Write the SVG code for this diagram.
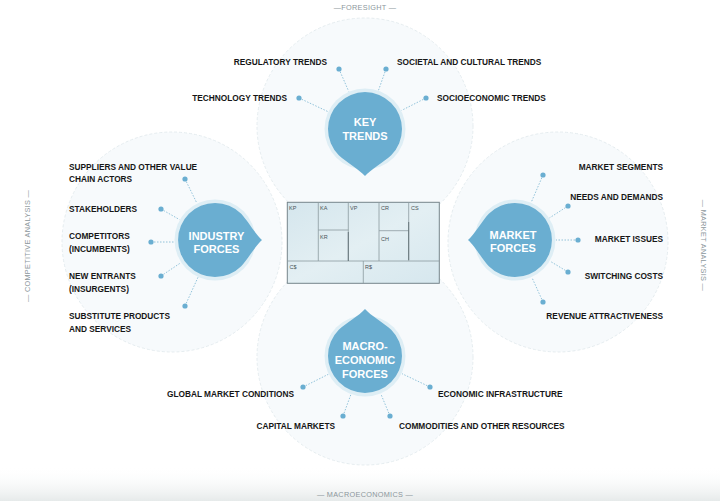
<svg xmlns="http://www.w3.org/2000/svg" xmlns:xlink="http://www.w3.org/1999/xlink" width="720" height="501" viewBox="0 0 720 501">
<defs>
<style>
.zone{fill:#cfe2ea;fill-opacity:0.16;stroke:#e2eaed;stroke-width:0.9;stroke-dasharray:3 2}
.halo{fill:#deeef5}
.drop{fill:#6aaed1}
.wt{font-family:"Liberation Sans",Arial,sans-serif;font-weight:bold;font-size:11px;fill:#ffffff;text-anchor:middle}
.lb{font-family:"Liberation Sans",Arial,sans-serif;font-weight:bold;font-size:8.3px;fill:#161616}
.end{text-anchor:end}
.side{font-family:"Liberation Sans",Arial,sans-serif;font-size:7.3px;fill:#8c979c;text-anchor:middle;letter-spacing:0.3px}
.dot{fill:#6aaed1}
.cn{stroke:#86bcd6;stroke-width:0.9;stroke-dasharray:1.5 1.5;fill:none}
.cell{font-family:"Liberation Sans",Arial,sans-serif;font-size:5.5px;fill:#4a5458}
.grid{stroke:#8b9aa0;stroke-width:0.8;fill:none}
</style>
<path id="dropShape" d="M 47 0 C 41 5 32.5 19.5 26.2 26.2 A 37 37 0 1 1 26.2 -26.2 C 32.5 -19.5 41 -5 47 0 Z"/>
<linearGradient id="floor" x1="0" y1="0" x2="0" y2="1">
<stop offset="0" stop-color="#ffffff" stop-opacity="0"/>
<stop offset="1" stop-color="#e6eaea"/>
</linearGradient>
<linearGradient id="bmc" x1="0" y1="0" x2="1" y2="1">
<stop offset="0" stop-color="#d5e6ed"/>
<stop offset="0.5" stop-color="#e3eff3"/>
<stop offset="1" stop-color="#d6e7ee"/>
</linearGradient>
</defs>
<rect x="0" y="0" width="720" height="501" fill="#ffffff"/>
<rect x="0" y="466" width="720" height="35" fill="url(#floor)"/>

<g id="zones">
<circle class="zone" cx="365" cy="126" r="108"/>
<circle class="zone" cx="172" cy="242" r="110"/>
<circle class="zone" cx="558" cy="242" r="110"/>
<circle class="zone" cx="365" cy="357" r="108"/>
</g>

<g id="side-labels">
<text class="side" x="365" y="10">—FORESIGHT —</text>
<text class="side" x="365" y="497">— MACROECONOMICS —</text>
<text class="side" transform="translate(29.5,246) rotate(-90)">— COMPETITIVE ANALYSIS —</text>
<text class="side" transform="translate(700.5,245.5) rotate(90)">— MARKET ANALYSIS —</text>
</g>

<g id="connectors">
<line class="cn" x1="339" y1="69" x2="348.7" y2="91.4"/>
<line class="cn" x1="386" y1="69" x2="378.5" y2="90.3"/>
<line class="cn" x1="299" y1="98" x2="327.9" y2="111.6"/>
<line class="cn" x1="426" y1="98" x2="401.6" y2="110.4"/>
<line class="cn" x1="185" y1="179" x2="196.9" y2="203.2"/>
<line class="cn" x1="161" y1="209" x2="179.5" y2="219.6"/>
<line class="cn" x1="151" y1="242" x2="174" y2="242"/>
<line class="cn" x1="161" y1="276" x2="180.9" y2="262.7"/>
<line class="cn" x1="185" y1="306" x2="198" y2="277.3"/>
<line class="cn" x1="543" y1="175" x2="531.2" y2="202.4"/>
<line class="cn" x1="568" y1="206" x2="549.5" y2="217.9"/>
<line class="cn" x1="578" y1="240" x2="556" y2="240"/>
<line class="cn" x1="568" y1="272" x2="550.1" y2="261.2"/>
<line class="cn" x1="543" y1="302" x2="531.9" y2="277.4"/>
<line class="cn" x1="303" y1="387" x2="328.3" y2="374.3"/>
<line class="cn" x1="343" y1="416" x2="350.9" y2="394.5"/>
<line class="cn" x1="430" y1="387" x2="402" y2="373.7"/>
<line class="cn" x1="390" y1="416" x2="380.8" y2="393.8"/>
<g class="dot">
<circle cx="339" cy="69" r="2.6"/><circle cx="386" cy="69" r="2.6"/><circle cx="299" cy="98" r="2.6"/><circle cx="426" cy="98" r="2.6"/>
<circle cx="185" cy="179" r="2.6"/><circle cx="161" cy="209" r="2.6"/><circle cx="151" cy="242" r="2.6"/><circle cx="161" cy="276" r="2.6"/><circle cx="185" cy="306" r="2.6"/>
<circle cx="543" cy="175" r="2.6"/><circle cx="568" cy="206" r="2.6"/><circle cx="578" cy="240" r="2.6"/><circle cx="568" cy="272" r="2.6"/><circle cx="543" cy="302" r="2.6"/>
<circle cx="303" cy="387" r="2.6"/><circle cx="343" cy="416" r="2.6"/><circle cx="430" cy="387" r="2.6"/><circle cx="390" cy="416" r="2.6"/>
</g>
</g>

<g id="canvas">
<rect x="287.3" y="202.3" width="152" height="81" fill="url(#bmc)" stroke="#76858b" stroke-width="1"/>
<path class="grid" d="M318.3 202.3 V261 M348.3 202.3 V261 M379 202.3 V261 M408.7 202.3 V261 M287.3 261 H439.3 M363.3 261 V283.3 M318.3 230 H348.3 M379 230.7 H408.7"/>
<path d="M348.3 232 V261 M408.7 222 V260" stroke="#5f6e74" stroke-width="0.9" fill="none"/>
<text class="cell" x="289" y="209.5">KP</text>
<text class="cell" x="320" y="209.5">KA</text>
<text class="cell" x="350" y="209.5">VP</text>
<text class="cell" x="381" y="209.5">CR</text>
<text class="cell" x="411" y="209.5">CS</text>
<text class="cell" x="320" y="238.5">KR</text>
<text class="cell" x="381" y="241">CH</text>
<text class="cell" x="289.5" y="268.5">C$</text>
<text class="cell" x="365" y="268.5">R$</text>
</g>

<g id="key-trends">
<circle class="halo" cx="365" cy="129" r="40.5"/>
<use xlink:href="#dropShape" href="#dropShape" class="drop" transform="translate(365,129) rotate(90)"/>
<text class="wt" x="365" y="125.7">KEY</text>
<text class="wt" x="365" y="139.7">TRENDS</text>
<text class="lb end" x="327" y="65.3">REGULATORY TRENDS</text>
<text class="lb" x="397" y="65.3">SOCIETAL AND CULTURAL TRENDS</text>
<text class="lb end" x="287" y="101.3">TECHNOLOGY TRENDS</text>
<text class="lb" x="437" y="101.3">SOCIOECONOMIC TRENDS</text>
</g>

<g id="industry-forces">
<circle class="halo" cx="215" cy="240" r="40.5"/>
<use xlink:href="#dropShape" href="#dropShape" class="drop" transform="translate(215,240)"/>
<text class="wt" x="216.5" y="239.7">INDUSTRY</text>
<text class="wt" x="216.5" y="253">FORCES</text>
<text class="lb" x="69" y="169.7">SUPPLIERS AND OTHER VALUE</text>
<text class="lb" x="69" y="182">CHAIN ACTORS</text>
<text class="lb" x="69" y="212">STAKEHOLDERS</text>
<text class="lb" x="69" y="239">COMPETITORS</text>
<text class="lb" x="69" y="252">(INCUMBENTS)</text>
<text class="lb" x="69" y="279">NEW ENTRANTS</text>
<text class="lb" x="69" y="292">(INSURGENTS)</text>
<text class="lb" x="69" y="319">SUBSTITUTE PRODUCTS</text>
<text class="lb" x="69" y="332">AND SERVICES</text>
</g>

<g id="market-forces">
<circle class="halo" cx="515" cy="240" r="40.5"/>
<use xlink:href="#dropShape" href="#dropShape" class="drop" transform="translate(515,240) rotate(180)"/>
<text class="wt" x="513" y="239">MARKET</text>
<text class="wt" x="513" y="252.3">FORCES</text>
<text class="lb end" x="663" y="169.7">MARKET SEGMENTS</text>
<text class="lb end" x="663" y="199.7">NEEDS AND DEMANDS</text>
<text class="lb end" x="663" y="241.7">MARKET ISSUES</text>
<text class="lb end" x="663" y="279">SWITCHING COSTS</text>
<text class="lb end" x="663" y="319">REVENUE ATTRACTIVENESS</text>
</g>

<g id="macroeconomic-forces">
<circle class="halo" cx="365" cy="356" r="40.5"/>
<use xlink:href="#dropShape" href="#dropShape" class="drop" transform="translate(365,356) rotate(-90)"/>
<text class="wt" x="365" y="350">MACRO-</text>
<text class="wt" x="365" y="364">ECONOMIC</text>
<text class="wt" x="365" y="378">FORCES</text>
<text class="lb end" x="294" y="397.3">GLOBAL MARKET CONDITIONS</text>
<text class="lb end" x="335" y="429">CAPITAL MARKETS</text>
<text class="lb" x="438" y="397.3">ECONOMIC INFRASTRUCTURE</text>
<text class="lb" x="399" y="429">COMMODITIES AND OTHER RESOURCES</text>
</g>
</svg>
